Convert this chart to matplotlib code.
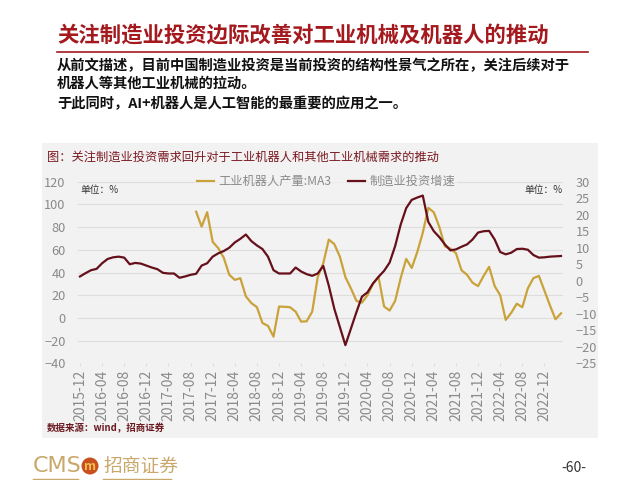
import numpy as np
import pandas as pd
import matplotlib.pyplot as plt
from matplotlib.patches import Rectangle, Ellipse
from matplotlib.lines import Line2D

plt.rcParams['font.family'] = ['Noto Sans CJK SC', 'DejaVu Sans']

# 2015-12 .. 2023-03, monthly
months = pd.period_range('2015-12', '2023-03', freq='M').strftime('%Y-%m').tolist()
tick_labels = ['2015-12', '2016-04', '2016-08', '2016-12', '2017-04', '2017-08',
               '2017-12', '2018-04', '2018-08', '2018-12', '2019-04', '2019-08',
               '2019-12', '2020-04', '2020-08', '2020-12', '2021-04', '2021-08',
               '2021-12', '2022-04', '2022-08', '2022-12']

# 工业机器人产量:MA3 (left axis, %), starts 2017-09
robot = [np.nan] * 21 + [
    93.6, 80.4, 93.1, 67, 61.5, 53, 38, 33.5, 35, 19,
    13, 9.5, -4.5, -7, -16.5, 10, 9.8, 9.4, 5.5, -3.3,
    -3.0, 5.5, 36, 48, 69, 65, 54, 36, 26, 15,
    13.5, 20, 30, 36, 10, 6.5, 15, 35, 52, 44,
    58, 75, 97, 93, 80, 63, 61, 57, 42, 38,
    31, 28, 37, 45, 28, 20, -1.8, 4.5, 12.5, 9.4,
    26, 35, 37, 24, 11, -1.2, 4]

# 制造业投资增速 (right axis, %)
invest = [
    1.3, 2.3, 3.2, 3.6, 5.3, 6.6, 7.1, 7.3, 7.0, 5.0,
    5.4, 5.2, 4.6, 4.0, 3.5, 2.4, 2.2, 2.2, 0.9, 1.3,
    1.8, 2.1, 4.6, 5.3, 7.3, 8.3, 9.0, 10.0, 11.6, 12.7,
    14.0, 12.0, 10.7, 9.6, 7.3, 3.2, 2.2, 2.2, 2.2, 4.0,
    2.8, 2.0, 1.5, 2.2, 4.5, -1.5, -8.5, -14.0, -19.5, -14.5,
    -9.5, -4.8, -3.5, -0.8, 1.2, 3.0, 5.5, 10.5, 17.0, 22.0,
    24.5, 25.2, 25.8, 17.8, 15.0, 13.2, 11.0, 9.2, 9.5, 10.3,
    11.0, 12.5, 14.6, 15.0, 15.1, 12.5, 8.7, 8.0, 8.5, 9.6,
    9.7, 9.4, 7.8, 7.0, 7.1, 7.3, 7.4, 7.5]

gold = '#C9A23A'
maroon = '#65101A'
red = '#A3191E'
grey = '#8A8A8A'
panel = '#F2F2F2'

W, H = 640, 480


def fx(px):
    return px / W


def fy(py):
    return 1 - py / H


fig = plt.figure(figsize=(6.4, 4.8), dpi=100)

# slide header
fig.text(fx(57), fy(35), '关注制造业投资边际改善对工业机械及机器人的推动',
         fontsize=15.4, fontweight='bold', color=red, va='center')
fig.add_artist(Line2D([fx(57), fx(588)], [fy(52), fy(52)], color=red, lw=1.2))
fig.text(fx(57), fy(66), '从前文描述，目前中国制造业投资是当前投资的结构性景气之所在，关注后续对于',
         fontsize=10.3, fontweight='bold', color='#111111', va='center')
fig.text(fx(57), fy(84), '机器人等其他工业机械的拉动。',
         fontsize=10.3, fontweight='bold', color='#111111', va='center')
fig.text(fx(57), fy(104), '于此同时，AI+机器人是人工智能的最重要的应用之一。',
         fontsize=10.3, fontweight='bold', color='#111111', va='center')

# chart panel
fig.add_artist(Rectangle((fx(42), fy(438)), fx(556), 295 / H, transform=fig.transFigure,
                         facecolor=panel, edgecolor='none', zorder=0))
fig.text(fx(47), fy(157), '图：关注制造业投资需求回升对于工业机器人和其他工业机械需求的推动',
         fontsize=8.8, color='#7A1A22', va='center')

ax = fig.add_axes([fx(78), fy(363.3), fx(485), 181.6 / H])
ax.set_facecolor('none')
x = np.arange(len(months))
ax.plot(x, robot, color=gold, lw=1.6, label='工业机器人产量:MA3')
ax.set_ylim(-40, 120)
ax.set_yticks(range(-40, 121, 20))
ax.set_xlim(-0.36, len(months) - 1 + 0.36)
ax.set_xticks([months.index(t) for t in tick_labels])
ax.set_xticklabels(tick_labels, rotation=90)
ax.grid(axis='y', color='#DDDDDD', lw=0.8)
ax.tick_params(axis='y', length=0, pad=9, labelsize=9.2, labelcolor=grey)
ax.tick_params(axis='x', length=2, color='#DDDDDD', pad=3, labelsize=10, labelcolor=grey)
for s in ax.spines.values():
    s.set_visible(False)

ax2 = ax.twinx()
ax2.plot(x, invest, color=maroon, lw=1.6, label='制造业投资增速')
ax2.set_ylim(-25, 30)
ax2.set_yticks(range(-25, 31, 5))
ax2.tick_params(axis='y', length=0, pad=9, labelsize=9.2, labelcolor=grey)
for s in ax2.spines.values():
    s.set_visible(False)

h1, l1 = ax.get_legend_handles_labels()
h2, l2 = ax2.get_legend_handles_labels()
leg = ax2.legend(h1 + h2, l1 + l2, ncol=2, loc='center', bbox_to_anchor=(fx(326), fy(181.7)),
                 bbox_transform=fig.transFigure, frameon=True, fontsize=8.8,
                 handlelength=1.4, handletextpad=0.35, columnspacing=1.4,
                 borderpad=0.1, fancybox=False)
leg.get_frame().set_facecolor(panel)
leg.get_frame().set_edgecolor('none')
for t in leg.get_texts():
    t.set_color(grey)

fig.text(fx(80), fy(190), '单位：%', fontsize=7, color='#333333', va='center')
fig.text(fx(563), fy(190), '单位：%', fontsize=7, color='#333333', va='center', ha='right')

fig.text(fx(47), fy(428), '数据来源：wind，招商证券', fontsize=6.8, fontweight='bold',
         color='#6A1A20', va='center')

# footer
fig.text(fx(33), fy(466), 'CMS', fontsize=16, color='#C9A86A', va='center',
         family='Liberation Sans Narrow')
fig.add_artist(Ellipse((fx(90), fy(466)), 17 / W, 17 / H, transform=fig.transFigure,
                       facecolor='#C8501E', edgecolor='none'))
fig.text(fx(90), fy(466), 'm', fontsize=9, fontweight='bold', style='italic',
         color='#F3C050', ha='center', va='center')
fig.text(fx(103), fy(466), '招商证券', fontsize=13.5, color='#C9A86A', va='center')
fig.add_artist(Line2D([fx(33), fx(78)], [fy(479), fy(479)], color='#C9A86A', lw=1))
fig.add_artist(Line2D([fx(103), fx(171)], [fy(479), fy(479)], color='#C9A86A', lw=1))
fig.text(fx(574), fy(468), '-60-', fontsize=10, color='#333333', va='center', ha='center')

fig.savefig('out.png', dpi=100)
